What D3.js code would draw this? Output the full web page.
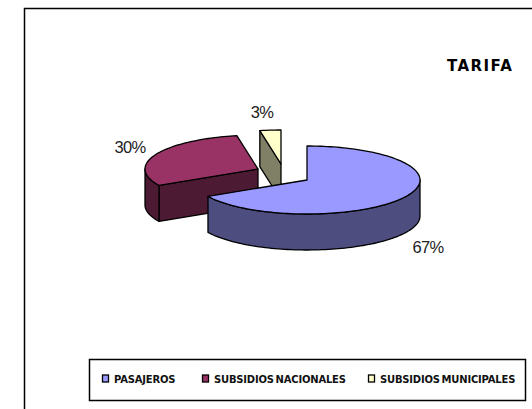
<!DOCTYPE html>
<html>
<head>
<meta charset="utf-8">
<script src="https://cdn.jsdelivr.net/npm/d3@7"></script>
<style>
   html, body { margin: 0; padding: 0; background: #fff; overflow: hidden; }
   svg { display: block; }
   .lbl { font-family: "Liberation Sans", Arial, sans-serif; font-size: 16.5px; fill: #222; letter-spacing: -0.6px; }
   .leg { font-family: "DejaVu Sans", sans-serif; font-size: 10px; font-weight: bold; fill: #111; letter-spacing: -0.2px; word-spacing: -1.5px; }
</style>
</head>
<body>
<div id="chart"></div>
<script>
var categories = ['PASAJEROS', 'SUBSIDIOS NACIONALES', 'SUBSIDIOS MUNICIPALES'];
var values = [67, 30, 3];
var percentLabels = ['67%', '30%', '3%'];
var chartTitle = 'TARIFA';

var topColors = ['#9999ff', '#993366', '#ffffcc'];
var sideColors = ['#4d4d80', '#4d1a33', '#808066'];

var W = 532, H = 409;
var rx = 113, ry = 34, depth = 36;
var edge = 1.3;

// where each slice's point sits once pulled out of the pie
var centers = [[307, 180], [258, 169], [281, 164]];
var labelPos = [[428, 253], [130, 153], [262, 118]];
var legendX = [102, 202, 368];

var svg = d3.select('#chart').append('svg').attr('width', W).attr('height', H);

// frame, open on the right and bottom
svg.append('path')
   .attr('d', 'M24.5 409 V8.5 H532')
   .attr('fill', 'none').attr('stroke', '#000').attr('stroke-width', 1.5);

svg.append('text')
   .attr('x', 447).attr('y', 71)
   .attr('font-family', '"DejaVu Sans", sans-serif')
   .attr('font-size', 15).attr('font-weight', 'bold').attr('fill', '#000')
   .attr('letter-spacing', 1.4)
   .text(chartTitle);

var color = d3.scaleOrdinal().domain(categories).range(topColors);
var colorSide = d3.scaleOrdinal().domain(categories).range(sideColors);

var arcs = d3.pie().sort(null).startAngle(0).endAngle(2 * Math.PI)(values);

function rimPoint(c, a, dy) {
   return [c[0] + rx * Math.sin(a), c[1] - ry * Math.cos(a) + (dy || 0)];
}

function rimPoints(c, a0, a1, dy) {
   var n = Math.max(2, Math.ceil((a1 - a0) / 0.03));
   return d3.range(n + 1).map(function(k) {
      return rimPoint(c, a0 + (a1 - a0) * k / n, dy);
   });
}

var line = d3.line();

function shape(g, pts, fill) {
   g.append('path')
      .attr('d', line(pts) + 'Z')
      .attr('fill', fill)
      .attr('stroke', '#000')
      .attr('stroke-width', edge)
      .attr('stroke-linejoin', 'round');
}

// back to front, so blue covers the bottoms of the other two
var order = [2, 1, 0];

svg.selectAll('.slice')
   .data(order)
   .enter().append('g').attr('class', 'slice')
   .each(function(i) {
      var g = d3.select(this);
      var d = arcs[i], c = centers[i];
      var a0 = d.startAngle, a1 = d.endAngle;
      var cat = categories[i];

      // cut face, blue has its own hidden behind the top
      if (i !== 0) {
         var p = rimPoint(c, a0);
         shape(g, [c, p, [p[0], p[1] + depth], [c[0], c[1] + depth]], colorSide(cat));
      }

      // outer wall, only the part of the rim facing the viewer
      var w0 = Math.max(a0, Math.PI / 2), w1 = Math.min(a1, 3 * Math.PI / 2);
      if (w1 > w0) {
         var upper = rimPoints(c, w0, w1, 0);
         var lower = rimPoints(c, w0, w1, depth).reverse();
         shape(g, upper.concat(lower), colorSide(cat));
      }

      // top face
      shape(g, [c].concat(rimPoints(c, a0, a1, 0)), color(cat));
   });

svg.selectAll('.lbl')
   .data(percentLabels)
   .enter().append('text')
   .attr('class', 'lbl')
   .attr('text-anchor', 'middle')
   .attr('x', function(d, i) { return labelPos[i][0]; })
   .attr('y', function(d, i) { return labelPos[i][1]; })
   .text(function(d) { return d; });

// legend
svg.append('rect')
   .attr('x', 89.5).attr('y', 359.5).attr('width', 436).attr('height', 41)
   .attr('fill', '#fff').attr('stroke', '#000').attr('stroke-width', 1.5);

var leg = svg.selectAll('.legItem')
   .data(categories)
   .enter().append('g').attr('class', 'legItem');

leg.append('rect')
   .attr('x', function(d, i) { return legendX[i] + 0.5; })
   .attr('y', 375)
   .attr('width', 6).attr('height', 7)
   .attr('fill', function(d) { return color(d); })
   .attr('stroke', '#000')
   .attr('stroke-width', 1.3);

leg.append('text')
   .attr('class', 'leg')
   .attr('x', function(d, i) { return legendX[i] + 12; })
   .attr('y', 383)
   .text(function(d) { return d; });
</script>
</body>
</html>
